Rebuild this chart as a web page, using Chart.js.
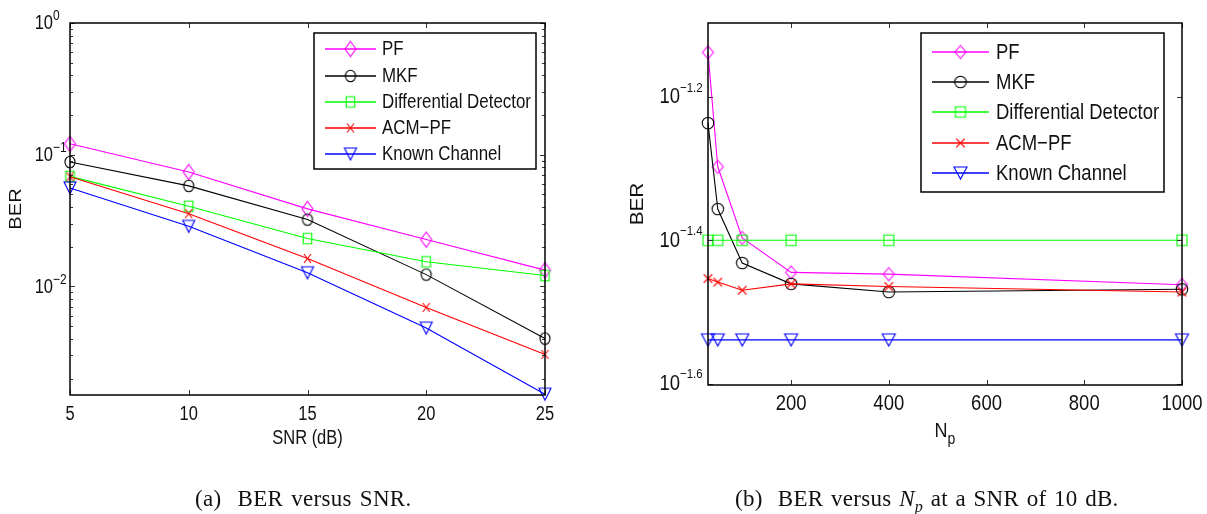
<!DOCTYPE html>
<html>
<head>
<meta charset="utf-8">
<script src="https://cdn.jsdelivr.net/npm/chart.js@4.4.0/dist/chart.umd.min.js"></script>
<style>
  html, body { margin: 0; padding: 0; background: #fff; }
  #wrap { position: relative; width: 1207px; height: 514px; overflow: hidden; }
  #wrap canvas { position: absolute; top: 0; }
  #chartSnr { left: 0; }
  #chartNp { left: 603px; }
  .cap { position: absolute; top: 487px; font-family: "Liberation Serif", "Times New Roman", serif;
         font-size: 23px; line-height: 23px; color: #111; white-space: nowrap;
         letter-spacing: 0.3px; word-spacing: 2px; }
  .cap sub { font-size: 70%; line-height: 0; }
</style>
</head>
<body>
<div id="wrap">
  <canvas id="chartSnr" width="603" height="514"></canvas>
  <canvas id="chartNp" width="604" height="514"></canvas>
  <div class="cap" style="left:195px">(a)&nbsp; BER versus SNR.</div>
  <div class="cap" style="left:735px;word-spacing:1.5px">(b)&nbsp; BER versus <i>N<sub>p</sub></i> at a SNR of 10 dB.</div>
</div>
<script>
// series names and colours (MATLAB style)
const series = ['PF', 'MKF', 'Differential Detector', 'ACM\u2212PF', 'Known Channel'];
const colors = ['#ff00ff', '#000000', '#00ff00', '#ff0000', '#0000ff'];
const markerKinds = ['diamond', 'circle', 'square', 'cross', 'triangle'];

// (a) BER versus SNR
const snr = [5, 10, 15, 20, 25];
const snrPF    = [0.121, 0.074, 0.0388, 0.0227, 0.0133];
const snrMKF   = [0.088, 0.058, 0.0322, 0.0123, 0.00402];
const snrDD    = [0.0685, 0.0406, 0.0231, 0.0154, 0.0121];
const snrACM   = [0.068, 0.0357, 0.0163, 0.00693, 0.00305];
const snrKnown = [0.056, 0.0286, 0.0127, 0.00483, 0.00152];
const snrTicks = [5, 10, 15, 20, 25];
const snrYExp = [0, -1, -2];

// (b) BER versus Np at SNR = 10 dB
const np = [30, 50, 100, 200, 400, 1000];
const npPF    = [0.0728, 0.0504, 0.0401, 0.0359, 0.0357, 0.0345];
const npMKF   = [0.0580, 0.0440, 0.0370, 0.0346, 0.0337, 0.0340];
const npDD    = [0.0398, 0.0398, 0.0398, 0.0398, 0.0398, 0.0398];
const npACM   = [0.0352, 0.0348, 0.0339, 0.0346, 0.0343, 0.0337];
const npKnown = [0.0289, 0.0289, 0.0289, 0.0289, 0.0289, 0.0289];
const npTicks = [200, 400, 600, 800, 1000];
const npYExp = [-1.2, -1.4, -1.6];

const SANS = '"Liberation Sans", Arial, Helvetica, sans-serif';

// hollow marker sprites, a little taller than wide like the printed figure
function marker(kind, color, w, h) {
  const c = document.createElement('canvas');
  c.width = Math.ceil(w) + 4; c.height = Math.ceil(h) + 4;
  const g = c.getContext('2d');
  const cx = c.width / 2, cy = c.height / 2, rx = w / 2, ry = h / 2;
  g.strokeStyle = color; g.lineWidth = 1.1;
  g.beginPath();
  if (kind === 'diamond') {
    g.moveTo(cx, cy - ry); g.lineTo(cx + rx, cy); g.lineTo(cx, cy + ry); g.lineTo(cx - rx, cy); g.closePath();
  } else if (kind === 'circle') {
    g.ellipse(cx, cy, rx, ry, 0, 0, Math.PI * 2);
  } else if (kind === 'square') {
    g.rect(cx - rx, cy - ry, w, h);
  } else if (kind === 'cross') {
    g.moveTo(cx - rx, cy - ry); g.lineTo(cx + rx, cy + ry);
    g.moveTo(cx + rx, cy - ry); g.lineTo(cx - rx, cy + ry);
  } else {
    g.moveTo(cx - rx, cy - ry); g.lineTo(cx + rx, cy - ry); g.lineTo(cx, cy + ry); g.closePath();
  }
  g.stroke();
  return c;
}

function stretchedText(ctx, str, x, y, size, sy, align, base) {
  ctx.save();
  ctx.translate(x, y);
  ctx.scale(1, sy);
  ctx.font = size + 'px ' + SANS;
  ctx.textAlign = align;
  ctx.textBaseline = base;
  ctx.fillText(str, 0, 0);
  ctx.restore();
}

function supLabel(e) {
  return e === 0 ? '0' : '\u2212' + Math.abs(e);
}

// axes box, inward ticks, 10^x labels, titles and the boxed legend
const frame = {
  id: 'frame',
  afterDraw(chart, args, o) {
    const { ctx, chartArea: a, scales: { x, y } } = chart;
    ctx.save();
    ctx.strokeStyle = '#333';
    ctx.lineWidth = 1;
    ctx.beginPath();
    o.xTicks.forEach(v => {
      const px = Math.round(x.getPixelForValue(v)) + 0.5;
      ctx.moveTo(px, a.bottom); ctx.lineTo(px, a.bottom - 5);
      ctx.moveTo(px, a.top); ctx.lineTo(px, a.top + 5);
    });
    o.yExp.forEach(e => {
      const py = Math.round(y.getPixelForValue(Math.pow(10, e))) + 0.5;
      ctx.moveTo(a.left, py); ctx.lineTo(a.left + 5, py);
      ctx.moveTo(a.right, py); ctx.lineTo(a.right - 5, py);
    });
    (o.yMinor || []).forEach(v => {
      const py = Math.round(y.getPixelForValue(v)) + 0.5;
      ctx.moveTo(a.left, py); ctx.lineTo(a.left + 3, py);
      ctx.moveTo(a.right, py); ctx.lineTo(a.right - 3, py);
    });
    ctx.stroke();

    ctx.strokeStyle = '#000';
    ctx.lineWidth = 1.5;
    ctx.strokeRect(a.left, a.top, a.right - a.left, a.bottom - a.top);

    ctx.fillStyle = '#111';
    const f = o.tickFont, sy = o.sy;
    o.xTickLabels.forEach(v => {
      stretchedText(ctx, String(v), x.getPixelForValue(v), a.bottom + 19.5, f, sy, 'center', 'middle');
    });
    o.yExp.forEach(e => {
      const py = y.getPixelForValue(Math.pow(10, e));
      const bx = a.left - o.baseGap;
      stretchedText(ctx, '10', bx, py + 0.5, f, sy, 'right', 'middle');
      stretchedText(ctx, supLabel(e), bx, py - o.supRise, o.supFont, sy, 'left', 'middle');
    });

    // y title, rotated
    ctx.save();
    ctx.translate(o.yTitleX, (a.top + a.bottom) / 2);
    ctx.rotate(-Math.PI / 2);
    ctx.scale(sy, 1);
    ctx.font = o.titleFont + 'px ' + SANS;
    ctx.textAlign = 'center';
    ctx.textBaseline = 'middle';
    ctx.fillText('BER', 0, 0);
    ctx.restore();

    // x title
    const cx = (a.left + a.right) / 2;
    if (o.xTitleSub) {
      ctx.font = o.titleFont + 'px ' + SANS;
      const wN = ctx.measureText(o.xTitle).width;
      ctx.font = o.subFont + 'px ' + SANS;
      const wS = ctx.measureText(o.xTitleSub).width;
      const left = cx - (wN + wS) / 2;
      stretchedText(ctx, o.xTitle, left, o.xTitleY, o.titleFont, sy, 'left', 'alphabetic');
      stretchedText(ctx, o.xTitleSub, left + wN, o.xTitleY + 7, o.subFont, sy, 'left', 'alphabetic');
    } else {
      stretchedText(ctx, o.xTitle, cx, o.xTitleY, o.titleFont, sy, 'center', 'alphabetic');
    }

    // legend
    const L = o.legend;
    ctx.fillStyle = '#fff';
    ctx.fillRect(L.x0, L.y0, L.x1 - L.x0, L.y1 - L.y0);
    ctx.strokeStyle = '#000';
    ctx.lineWidth = 1.5;
    ctx.strokeRect(L.x0, L.y0, L.x1 - L.x0, L.y1 - L.y0);
    chart.data.datasets.forEach((ds, i) => {
      const ry = Math.round(L.rowY + i * L.rowGap);
      ctx.strokeStyle = colors[i];
      ctx.lineWidth = 1.3;
      ctx.beginPath();
      ctx.moveTo(L.lineX0, ry); ctx.lineTo(L.lineX1, ry);
      ctx.stroke();
      const img = ds.pointStyle;
      const mx = (L.lineX0 + L.lineX1) / 2;
      ctx.drawImage(img, mx - img.width / 2, ry - img.height / 2);
      ctx.fillStyle = '#111';
      stretchedText(ctx, ds.label, L.textX, ry + 0.5, L.font, L.sy, 'left', 'middle');
    });
    ctx.restore();
  }
};

function makeChart(id, xs, ys, sizes, scales, pad, deco) {
  return new Chart(document.getElementById(id), {
    type: 'line',
    data: {
      datasets: series.map((name, i) => ({
        label: name,
        data: xs.map((v, j) => ({ x: v, y: ys[i][j] })),
        borderColor: colors[i],
        borderWidth: 1.1,
        pointStyle: marker(markerKinds[i], colors[i], sizes[i][0], sizes[i][1]),
        pointRadius: 6,
        tension: 0,
        fill: false,
        clip: false,
        order: series.length - i
      }))
    },
    options: {
      responsive: false,
      animation: false,
      events: [],
      layout: { padding: pad },
      plugins: { legend: { display: false }, tooltip: { enabled: false }, frame: deco },
      scales: {
        x: { type: 'linear', display: false, min: scales.xMin, max: scales.xMax },
        y: { type: 'logarithmic', display: false, min: scales.yMin, max: scales.yMax }
      }
    },
    plugins: [frame]
  });
}

const minorA = [];
[0.001, 0.01, 0.1].forEach(d => { for (let k = 2; k <= 9; k++) if (k * d >= 0.0015) minorA.push(k * d); });

makeChart('chartSnr', snr, [snrPF, snrMKF, snrDD, snrACM, snrKnown],
  [[11, 15], [10, 11.5], [8.5, 10.5], [7, 9], [12, 12]],
  { xMin: 5, xMax: 25, yMin: 0.0015, yMax: 1 },
  { left: 70, top: 23, right: 58, bottom: 119 },
  {
    xTicks: snrTicks, xTickLabels: snrTicks, yExp: snrYExp, yMinor: minorA,
    tickFont: 16.5, supFont: 12, sy: 1.22, baseGap: 17, supRise: 7,
    titleFont: 16.5, yTitleX: 16.5, xTitle: 'SNR (dB)', xTitleY: 444,
    legend: { x0: 314, y0: 33, x1: 536, y1: 169, lineX0: 325, lineX1: 376, textX: 382,
              rowY: 49.3, rowGap: 26.2, font: 16.9, sy: 1.24 }
  });

// second panel canvas starts at x = 603
makeChart('chartNp', np, [npPF, npMKF, npDD, npACM, npKnown],
  [[11, 13], [11.5, 11.5], [10, 10.5], [8.5, 8.5], [13, 12]],
  { xMin: 30, xMax: 1000, yMin: 0.025, yMax: 0.08 },
  { left: 105, top: 23, right: 25, bottom: 129 },
  {
    xTicks: npTicks, xTickLabels: npTicks, yExp: npYExp,
    tickFont: 18.5, supFont: 11.5, sy: 1.15, baseGap: 28, supRise: 9,
    titleFont: 18, subFont: 14, yTitleX: 35.5, xTitle: 'N', xTitleSub: 'p', xTitleY: 437,
    legend: { x0: 318, y0: 33, x1: 561, y1: 192, lineX0: 329, lineX1: 386, textX: 393,
              rowY: 51.7, rowGap: 30.3, font: 18.5, sy: 1.2 }
  });
</script>
</body>
</html>
